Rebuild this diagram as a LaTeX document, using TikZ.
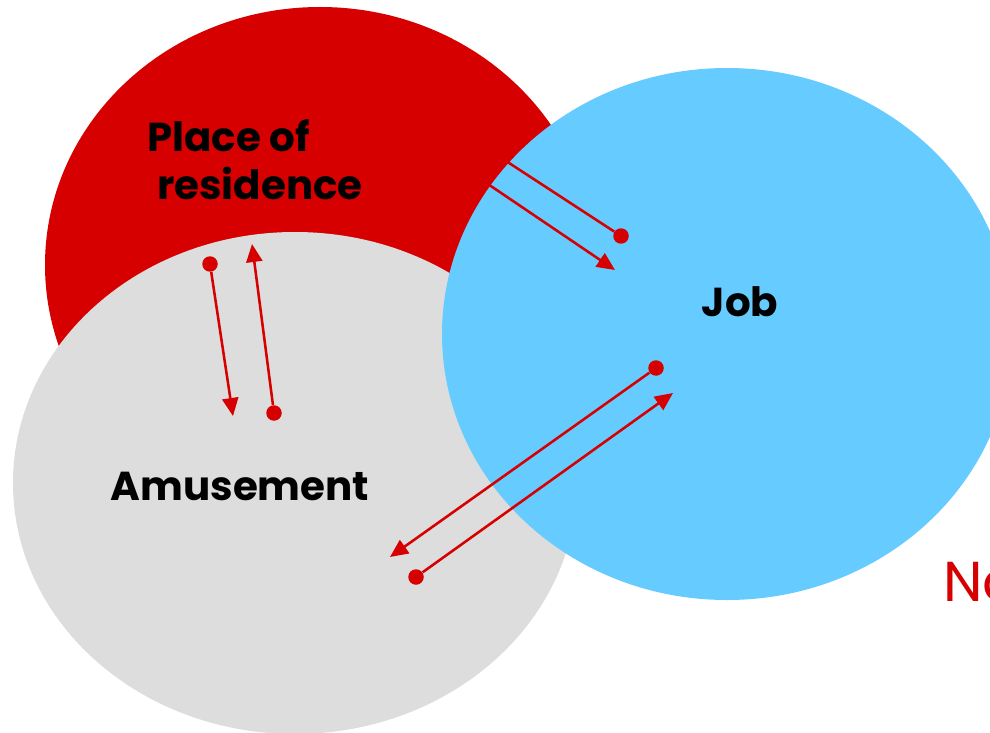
\documentclass[tikz,border=0pt]{standalone}
\usepackage{fontspec}
\setmainfont{Poppins}
\usetikzlibrary{arrows.meta, positioning}
\definecolor{resred}{RGB}{214,0,0}
\definecolor{amugrey}{RGB}{221,221,221}
\definecolor{jobblue}{RGB}{102,203,255}
\tikzset{
  flow/.style={draw=resred, line width=1.45pt, -{Triangle[length=0.36cm,width=0.32cm]}},
  dot/.style={circle, fill=resred, inner sep=0pt, minimum size=0.31cm},
  label/.style={font=\bfseries\fontsize{23}{27}\selectfont, text=black}
}
\begin{document}
\begin{tikzpicture}[x=0.02cm, y=-0.02cm]
\clip (0,0) rectangle (990,733);
\fill [white] (0,0) rectangle (990,733);
\fill [resred] (320,265) ellipse [x radius=275, y radius=258];
\fill [amugrey] (295,483) ellipse [x radius=282, y radius=251];
\fill [jobblue] (727,334) ellipse [x radius=285, y radius=266];
\node[dot] (dres1) at (210,264) {};
\node[dot] (damu1) at (274,413) {};
\node[dot] (djob1) at (621,236) {};
\node[dot] (dres2) at (445,155) {};
\node[dot] (djob2) at (656,368) {};
\node[dot] (damu2) at (416,577) {};
\coordinate (tamu1) at (233,416);
\coordinate (tres1) at (252,244);
\coordinate (tres2) at (460,131);
\coordinate (tjob1) at (615,270);
\coordinate (tamu2) at (390,557);
\coordinate (tjob2) at (673,393);
\draw [flow] (dres1) -- (tamu1);
\draw [flow] (damu1) -- (tres1);
\draw [flow] (djob1) -- (tres2);
\draw [flow] (dres2) -- (tjob1);
\draw [flow] (djob2) -- (tamu2);
\draw [flow] (damu2) -- (tjob2);
\node[label, align=left] (residence) at (255,160) {Place of\\\hspace*{0.2cm}residence};
\node[label] (job) at (740,302) {Job};
\node[label] (amusement) at (240,486) {Amusement};
\node[anchor=south west, inner sep=0pt, text=resred, font=\fontsize{32}{38}\selectfont] (note) at (943,602) {No};
\end{tikzpicture}
\end{document}
